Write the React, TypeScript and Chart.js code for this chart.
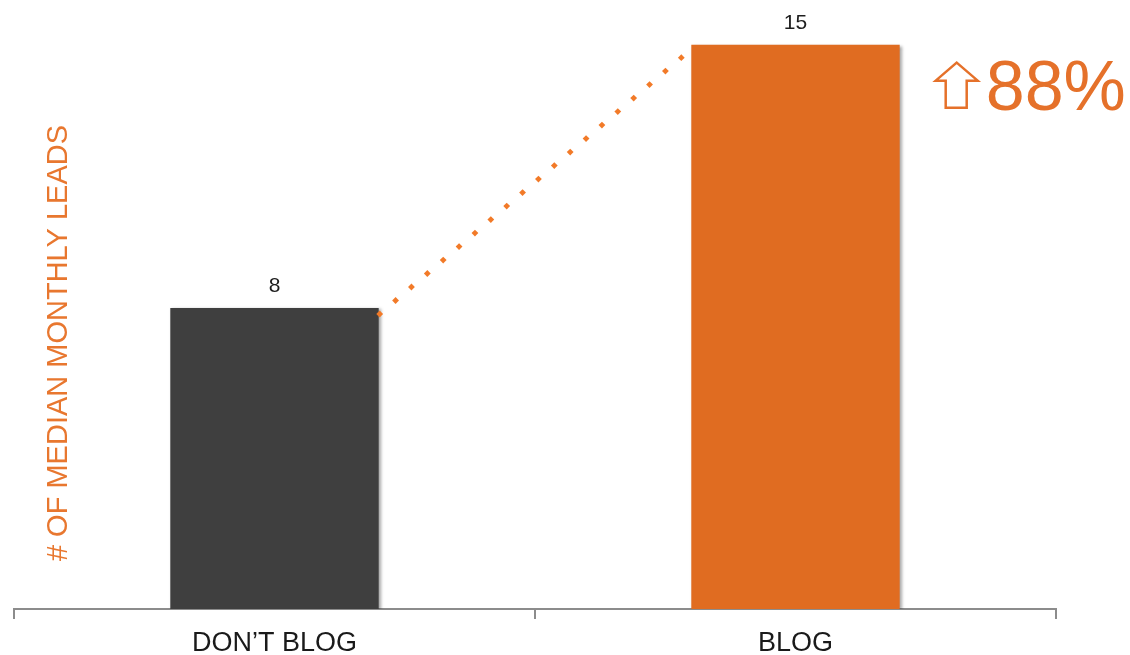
import React, { useEffect, useRef } from "react";
import { Chart, registerables } from "chart.js";

Chart.register(...registerables);

const categories = ["DON\u2019T BLOG", "BLOG"];
const leads = [8, 15];
const barColors = ["#3f3f3f", "#e06c21"];
const yTitle = "# OF MEDIAN MONTHLY LEADS";
const increaseLabel = "88%";
const yMax = 16;

const FONT = "'Liberation Sans', Arial, sans-serif";
const ORANGE = "#e5712a";

const overlay = {
  id: "overlay",
  beforeDatasetsDraw(chart: any) {
    const ctx = chart.ctx;
    ctx.save();
    ctx.shadowColor = "rgba(0,0,0,0.35)";
    ctx.shadowBlur = 3;
    ctx.shadowOffsetX = 2;
    ctx.shadowOffsetY = 1;
  },
  afterDatasetsDraw(chart: any) {
    const ctx = chart.ctx;
    ctx.restore();
    const meta = chart.getDatasetMeta(0);
    const bars = meta.data as any[];
    const area = chart.chartArea;

    // value labels
    ctx.save();
    ctx.fillStyle = "#1e1e1e";
    ctx.font = `21px ${FONT}`;
    ctx.textAlign = "center";
    ctx.textBaseline = "alphabetic";
    bars.forEach((b, i) => {
      ctx.fillText(String(leads[i]), b.x, b.y - 16);
    });
    ctx.restore();

    // dotted connector
    const b1 = bars[0];
    const b2 = bars[1];
    const x1 = b1.x + b1.width / 2 + 1;
    const y1 = b1.y + 6;
    const x2 = b2.x - b2.width / 2 - 10;
    const y2 = b2.y + 13;
    const n = 19;
    ctx.save();
    ctx.fillStyle = "#f27a28";
    for (let i = 0; i <= n; i++) {
      const t = i / n;
      const x = x1 + (x2 - x1) * t;
      const y = y1 + (y2 - y1) * t;
      ctx.beginPath();
      ctx.moveTo(x, y - 3.4);
      ctx.lineTo(x + 3.4, y);
      ctx.lineTo(x, y + 3.4);
      ctx.lineTo(x - 3.4, y);
      ctx.closePath();
      ctx.fill();
    }
    ctx.restore();

    // increase arrow + label
    const ax = b2.x + b2.width / 2 + 36; // left of arrow head
    const top = b2.y + 18;
    ctx.save();
    ctx.strokeStyle = ORANGE;
    ctx.fillStyle = "#ffffff";
    ctx.lineWidth = 2.5;
    ctx.lineJoin = "miter";
    ctx.beginPath();
    ctx.moveTo(ax + 21, top);
    ctx.lineTo(ax + 42, top + 18);
    ctx.lineTo(ax + 31, top + 18);
    ctx.lineTo(ax + 31, top + 45);
    ctx.lineTo(ax + 10, top + 45);
    ctx.lineTo(ax + 10, top + 18);
    ctx.lineTo(ax, top + 18);
    ctx.closePath();
    ctx.fill();
    ctx.stroke();
    ctx.fillStyle = ORANGE;
    ctx.font = `70px ${FONT}`;
    ctx.textAlign = "left";
    ctx.textBaseline = "alphabetic";
    ctx.fillText(increaseLabel, ax + 50, top + 47);
    ctx.restore();

    // rotated y title
    ctx.save();
    ctx.translate(area.left + 45, area.bottom - 266);
    ctx.rotate(-Math.PI / 2);
    ctx.fillStyle = "#e8772f";
    ctx.font = `29px ${FONT}`;
    ctx.textAlign = "center";
    ctx.textBaseline = "middle";
    ctx.fillText(yTitle, 0, 0);
    ctx.restore();
  },
};

export default function App() {
  const ref = useRef<HTMLCanvasElement | null>(null);

  useEffect(() => {
    document.body.style.margin = "0";
    const canvas = ref.current;
    if (!canvas) return;
    const chart = new Chart(canvas, {
      type: "bar",
      data: {
        labels: categories,
        datasets: [
          {
            data: leads,
            backgroundColor: barColors,
            borderWidth: 0,
            barPercentage: 0.4,
            categoryPercentage: 1,
          },
        ],
      },
      options: {
        responsive: false,
        animation: false,
        devicePixelRatio: 1,
        layout: { padding: { left: 14, right: 74, top: 7, bottom: 0 } },
        plugins: {
          legend: { display: false },
          tooltip: { enabled: false },
          title: { display: false },
        },
        scales: {
          x: {
            offset: true,
            border: { display: true, color: "#8c8c8c", width: 2 },
            grid: {
              display: true,
              offset: true,
              drawOnChartArea: false,
              drawTicks: true,
              tickLength: 10,
              color: "#8c8c8c",
              lineWidth: 2,
            },
            ticks: {
              color: "#1a1a1a",
              font: { family: FONT, size: 27 },
              padding: 8,
              maxRotation: 0,
            },
            afterFit(scale: any) {
              scale.height = 46;
            },
          },
          y: {
            display: false,
            min: 0,
            max: yMax,
          },
        },
      },
      plugins: [overlay],
    });
    return () => chart.destroy();
  }, []);

  return (
    <div style={{ width: 1130, height: 655 }}>
      <canvas ref={ref} width={1130} height={655} style={{ display: "block" }} />
    </div>
  );
}
